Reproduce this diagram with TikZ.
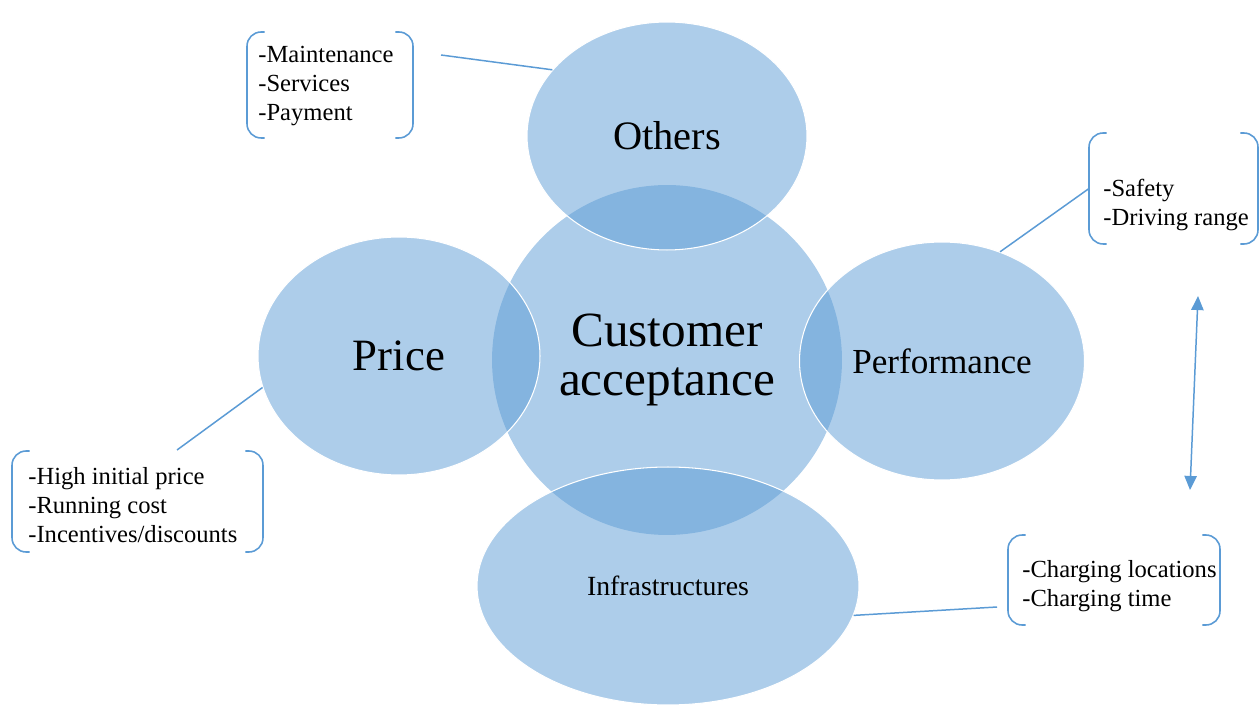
\documentclass[tikz,border=0pt]{standalone}
\usepackage{fontspec}
\setmainfont{Liberation Serif}
\usetikzlibrary{shapes.geometric,arrows.meta}
\definecolor{bubblue}{RGB}{91,155,213}
\definecolor{linkblue}{RGB}{91,155,213}
\tikzset{
	bubble/.style={ellipse, inner sep=0pt, fill=bubblue, fill opacity=0.5,
	text opacity=1, draw=white, line width=0.6pt},
	listbox/.style={rectangle, inner sep=0pt, outer sep=0pt},
	listtext/.style={align=left, inner sep=0pt, anchor=west,
	font=\fontsize{14}{16.5}\selectfont},
	brk/.style={draw=linkblue, line width=0.9pt, rounded corners=8pt},
	link/.style={draw=linkblue, line width=0.85pt},
}
% Klammern links und rechts um einen Kasten
\newcommand{\bracketpair}[1]{%
	\draw[brk] ([xshift=10pt]#1.north west) -- (#1.north west) -- (#1.south west)
	-- ([xshift=10pt]#1.south west);
	\draw[brk] ([xshift=-10pt]#1.north east) -- (#1.north east) -- (#1.south east)
	-- ([xshift=-10pt]#1.south east);}
\begin{document}
\begin{tikzpicture}[x=0.02cm, y=-0.02cm]
	\useasboundingbox (0,0) rectangle (1260,705);
	% Mitte
	\node[bubble, draw=none, minimum width=7cm, minimum height=7cm,
	font=\fontsize{28}{27.5}\selectfont, align=center] (cust) at (667,360)
	{Customer\\acceptance};
	% Ellipsen aussen
	\node[bubble, minimum width=5.6cm, minimum height=4.56cm,
	font=\fontsize{23}{26}\selectfont] (others) at (667,136) {Others};
	\node[bubble, minimum width=5.64cm, minimum height=4.76cm,
	font=\fontsize{25.5}{28}\selectfont] (price) at (399,356) {Price};
	\node[bubble, minimum width=5.7cm, minimum height=4.76cm,
	font=\fontsize{20}{23}\selectfont] (perf) at (942,361) {Performance};
	\node[bubble, minimum width=7.64cm, minimum height=4.76cm,
	font=\fontsize{15.8}{18}\selectfont] (infra) at (668,586) {Infrastructures};
	% Kaesten
	\node[listbox, minimum width=3.32cm, minimum height=2.12cm] (mbox) at (330,85) {};
	\node[listtext] (mtext) at (258,86) {-Maintenance\\-Services\\-Payment};
	\bracketpair{mbox}
	\node[listbox, minimum width=3.38cm, minimum height=2.22cm] (sbox) at (1173.5,188.5) {};
	\node[listtext] (stext) at (1103,205) {-Safety\\-Driving range};
	\bracketpair{sbox}
	\node[listbox, minimum width=5.02cm, minimum height=2.02cm] (pbox) at (137.5,501.5) {};
	\node[listtext] (ptext) at (28,505) {-High initial price\\-Running cost\\-Incentives/discounts};
	\bracketpair{pbox}
	\node[listbox, minimum width=4.24cm, minimum height=1.8cm] (cbox) at (1114,580) {};
	\node[listtext] (ctext) at (1022,586) {-Charging locations\\-Charging time};
	\bracketpair{cbox}
	% Verbindungen
	\coordinate (mtip) at (441,55);
	\coordinate (ptip) at (177,450);
	\coordinate (ctip) at (997,607);
	\coordinate (atop) at (1198,296);
	\coordinate (abot) at (1190,490);
	\draw[link] (mtip) -- (others.150);
	\draw[link] (perf.62) -- (sbox.west);
	\draw[link] (price.193) -- (ptip);
	\draw[link] (infra.-9) -- (ctip);
	\draw[link, {Triangle[width=7pt,length=8pt]}-{Triangle[width=7pt,length=8pt]}]
	(atop) -- (abot);
\end{tikzpicture}
\end{document}
